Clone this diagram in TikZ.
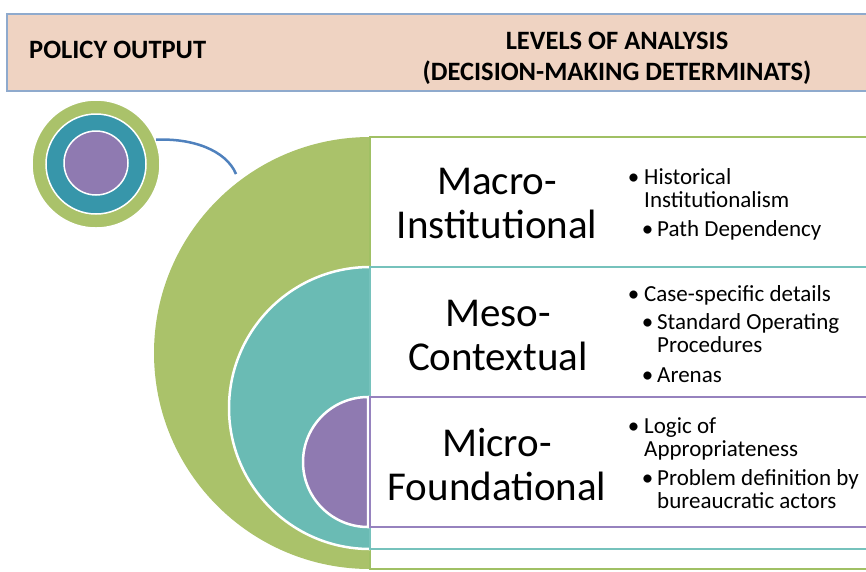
\documentclass[tikz,border=0pt]{standalone}
\usepackage{fontspec}
\setmainfont{Carlito}
\definecolor{hdrfill}{RGB}{239,211,194}
\definecolor{hdrline}{RGB}{143,170,205}
\definecolor{grn}{RGB}{170,194,106}
\definecolor{grnline}{RGB}{160,192,100}
\definecolor{tealdk}{RGB}{55,150,170}
\definecolor{teallt}{RGB}{106,187,180}
\definecolor{tealline}{RGB}{118,194,188}
\definecolor{purp}{RGB}{143,122,177}
\definecolor{purpline}{RGB}{150,130,190}
\definecolor{connblue}{RGB}{79,129,189}
\newcommand{\bA}{\llap{•\hspace{5pt}}}
\newcommand{\bB}{\hspace*{13pt}\llap{•\hspace{4pt}}}
\begin{document}
\begin{tikzpicture}[x=1pt,y=-1pt,
  hdrtxt/.style={font=\fontsize{26.5}{31}\bfseries\selectfont, align=center, inner sep=0pt},
  bigtxt/.style={font=\fontsize{41}{44}\selectfont, align=center, inner sep=0pt},
  bultxt/.style={font=\fontsize{23}{23}\selectfont, align=left, inner sep=0pt},
  half/.style={draw=white, line width=2.5pt},
  levelbox/.style={fill=white, line width=2.5pt},
  ring/.style={circle, draw=white, line width=1.5pt, inner sep=0pt},
  conn/.style={draw=connblue, line width=2.5pt}]
\clip (0,0) rectangle (866,571);
\fill[white] (0,0) rectangle (866,571);
% header
\draw[fill=hdrfill, draw=hdrline, line width=1.5pt] (7,14) rectangle (900,91);
\node[hdrtxt, anchor=base west] (pol) at (29,58) {POLICY OUTPUT};
\node[hdrtxt, anchor=base] (lev) at (617,80) {LEVELS OF ANALYSIS\\(DECISION-MAKING DETERMINATS)};
% small concentric circles
\node[ring, fill=grn, minimum size=128pt] (pout) at (96,164) {};
\node[ring, fill=tealdk, minimum size=100pt] (pmid) at (96,164) {};
\node[ring, fill=purp, minimum size=64pt] (pin) at (96,163) {};
% big half circles and level boxes
\begin{scope}
  \clip (0,0) rectangle (370,571);
  \fill[grn] (370,353) circle[radius=216];
\end{scope}
\draw[levelbox, draw=grnline, line width=2pt] (370,137) rectangle (900,569);
\begin{scope}
  \clip (0,0) rectangle (370,571);
  \filldraw[half, fill=teallt] (370,408) circle[radius=141];
\end{scope}
\draw[levelbox, draw=tealline] (370,267) rectangle (900,549);
\filldraw[half, fill=purp] (368,397) arc[start angle=270, end angle=90, radius=65] -- cycle;
\draw[levelbox, draw=purpline] (370,397) rectangle (900,527);
% connector
\coordinate (gapend) at (236,174);
\draw[conn] (pout.22) .. controls (192,138) and (226,150) .. (gapend);
% level titles
\node[bigtxt, anchor=base] (macro) at (497,238) {Macro-\\Institutional};
\node[bigtxt, anchor=base] (meso) at (498,370) {Meso-\\Contextual};
\node[bigtxt, anchor=base] (micro) at (497,500) {Micro-\\Foundational};
% bullet lists
\node[bultxt, anchor=base west] (macrol) at (644,236.5) {\bA Historical\\Institutionalism\\[6pt]\bB Path Dependency};
\node[bultxt, anchor=base west] (mesol) at (644,382.5) {\bA Case-specific details\\[5pt]\bB Standard Operating\\\hspace*{13pt}Procedures\\[7pt]\bB Arenas};
\node[bultxt, anchor=base west] (microl) at (644,508.5) {\bA Logic of\\Appropriateness\\[6pt]\bB Problem definition by\\\hspace*{13pt}bureaucratic actors};
\end{tikzpicture}
\end{document}
